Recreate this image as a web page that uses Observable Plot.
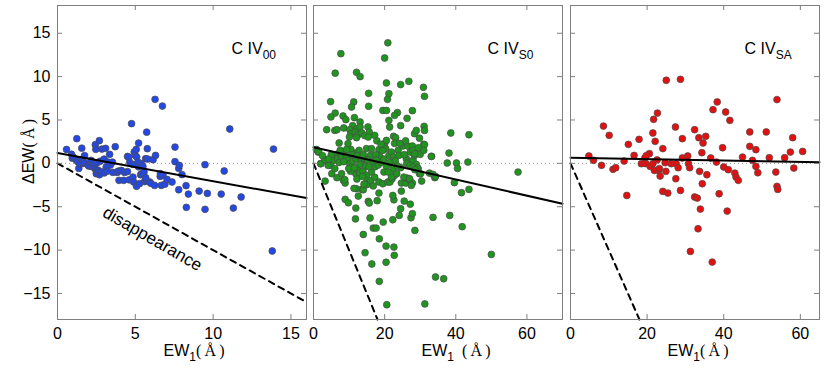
<!DOCTYPE html>
<html><head><meta charset="utf-8">
<script src="https://cdn.jsdelivr.net/npm/d3@7"></script>
<script src="https://cdn.jsdelivr.net/npm/@observablehq/plot@0.6"></script>
<style>
html,body{margin:0;padding:0;background:#fff;}
#wrap{position:relative;width:830px;height:374px;overflow:hidden;background:#fff;}
#wrap svg{position:absolute;top:0;}
</style></head><body><div id="wrap"></div>
<script>
// ---------- data (EW1, ΔEW) ----------
const c00Points = [
[0.58,1.6],[0.9,1.05],[0.95,0.6],[1.0,0.75],[1.2,0.4],[1.24,2.85],[1.3,0.2],[1.37,-0.58],[1.45,-0.1],[1.56,1.75],[1.56,0.42],[1.65,0.0],[1.74,0.9],[1.74,0.08],[1.95,-0.15],[2.0,-0.3],[2.16,-0.35],[2.16,0.35],[2.3,-0.1],[2.38,-0.54],[2.43,2.15],[2.45,-0.7],[2.46,1.62],[2.49,-1.19],[2.55,0.08],[2.6,-0.77],[2.6,-1.0],[2.69,2.62],[2.7,-1.31],[2.75,0.25],[2.81,-0.96],[2.85,1.65],[3.0,0.5],[3.0,-1.1],[3.09,1.73],[3.13,-0.42],[3.2,-0.9],[3.24,0.15],[3.35,1.04],[3.4,-0.2],[3.53,0.15],[3.56,-1.04],[3.71,1.92],[3.84,-1.04],[3.9,-0.9],[3.95,-1.96],[4.1,-0.81],[4.25,-1.96],[4.31,-1.04],[4.5,0.8],[4.5,-0.95],[4.57,0.73],[4.6,-1.9],[4.64,0.15],[4.76,4.58],[4.85,-0.12],[4.85,-1.58],[4.89,-2.15],[4.93,1.31],[5.0,0.9],[5.06,1.61],[5.08,-2.65],[5.09,0.73],[5.17,0.15],[5.2,-0.4],[5.21,2.34],[5.27,-2.34],[5.34,-1.31],[5.38,-0.04],[5.4,-1.2],[5.49,-0.35],[5.56,-1.0],[5.6,-2.1],[5.64,-1.96],[5.66,0.54],[5.67,-1.65],[5.73,3.6],[5.77,1.69],[5.8,0.5],[5.92,-2.15],[6.0,-2.3],[6.14,0.42],[6.24,-2.54],[6.27,7.38],[6.3,0.92],[6.6,-1.5],[6.61,-1.19],[6.67,-2.54],[6.74,6.61],[6.78,-1.38],[6.9,-2.4],[7.04,-1.85],[7.36,-2.15],[7.55,1.88],[7.55,0.2],[7.79,-0.58],[7.83,-0.23],[7.79,-3.04],[8.0,-1.3],[8.26,-2.57],[8.28,-5.07],[8.41,-3.54],[9.1,-3.19],[9.48,-0.15],[9.48,-5.3],[9.63,-3.46],[10.52,-3.54],[10.71,-0.88],[11.07,3.96],[11.3,-5.15],[11.8,-3.88],[13.8,-10.1],[13.88,1.65]
];
const cS0Points = [
[20.9,13.9],[7.7,12.65],[20.0,12.15],[6.1,10.4],[12.1,10.5],[13.1,10.0],[26.8,9.46],[24.5,9.08],[20.5,9.27],[30.9,8.77],[15.5,8.08],[21.2,8.04],[20.8,7.38],[31.2,7.73],[4.8,7.12],[11.3,7.08],[15.5,6.58],[10.7,6.5],[19.5,6.1],[20.5,6.1],[27.8,6.08],[23.6,5.85],[22.8,5.54],[6.1,5.8],[4.9,5.35],[8.3,5.46],[9.1,5.04],[11.5,5.27],[26.3,5.19],[21.2,4.96],[13.1,4.77],[11.0,4.35],[21.4,4.19],[24.5,4.35],[15.3,4.19],[3.7,3.88],[6.0,3.8],[6.6,3.88],[8.5,4.08],[10.2,3.88],[10.5,3.42],[12.2,4.0],[13.1,4.2],[11.7,3.6],[12.5,3.3],[13.6,3.5],[14.4,3.2],[15.7,3.6],[17.2,3.23],[15.4,3.04],[22.5,3.12],[23.1,2.96],[28.4,3.42],[28.9,3.8],[31.1,4.27],[31.2,3.8],[38.6,3.5],[43.7,3.3],[31.0,2.2],[7.2,2.35],[9.7,2.27],[12.1,2.96],[10.1,3.04],
[38.1,1.19],[40.2,0.04],[37.6,0.04],[40.5,-0.58],[43.4,0.15],[33.2,0.81],[57.5,-1.0],[39.6,-2.23],[34.1,-1.65],[41.6,-3.38],[43.7,-3.0],
[33.6,-6.23],[38.3,-6.0],[41.8,-7.3],[50.0,-10.5],[34.3,-13.1],[36.6,-13.3],[31.3,-16.2],[20.6,-16.3],[18.5,-13.6],[16.4,-11.6],[20.4,-11.4],[14.5,-10.3],[20.4,-9.54],[22.6,-9.65],[22.7,-10.6],[14.0,-8.2],[16.8,-7.46],[17.6,-7.46],[18.5,-8.7],[19.6,-6.77],[15.9,-6.3],[11.8,-6.4],[22.3,-6.5],[24.1,-6.0],[24.5,-5.23],[25.5,-4.35],[27.2,-4.7],[27.4,-6.27],[27.8,-5.8],[28.5,-7.73],[8.9,-4.15],[9.8,-4.54],[11.9,-5.15],[15.4,-4.38],[15.7,-4.58],[22.6,-4.2],[22.3,-3.7],[24.7,-3.2],[18.4,-3.42],[13.6,-3.0],[14.0,-3.04],[12.6,-3.77],[17.9,-4.3],[12.0,-2.92],
[0.8,1.6],[1.3,1.3],[2.0,-0.04],[3.2,0.35],[3.27,-2.04],[5.14,-1.19],[4.86,-0.23],[4.1,-0.23],[5.7,0.35],[6.54,1.04],[6.73,0.54],[6.6,-1.65],[7.9,0.92],[8.0,0.73],[8.8,1.1],[9.3,0.8],[8.4,-1.96],[8.9,-2.27],[7.9,-1.19],[8.8,-1.88],[9.7,0.35],[10.2,-0.04],[10.9,-0.35],[11.1,0.27],[11.9,0.54],[11.9,1.19],[11.4,-2.88],[11.9,-1.19],[12.5,-0.81],[13.0,-1.12],[13.9,-0.88],[12.8,1.5],[13.5,0.3],[14.2,0.6],[14.5,-0.3],[14.9,-1.38],[15.1,-1.96],[15.8,-2.27],[16.3,-1.0],[15.0,-2.46],[16.1,-1.96],[14.9,1.7],[16.3,1.7],[16.0,0.92],[16.8,0.15],[17.3,-0.4],[17.2,-1.6],[18.4,1.58],[18.6,0.8],[18.2,-0.2],[19.0,0.1],[18.4,-2.15],[19.5,-2.35],[20.9,-2.15],[20.0,2.27],[20.5,2.65],[20.3,1.7],[21.2,0.92],[21.9,1.3],[22.5,0.73],[20.5,-0.3],[21.5,0.1],[21.5,-2.15],[22.1,-1.77],[22.4,-0.62],[22.8,-1.38],[21.9,-1.58],[23.8,1.5],[24.0,0.92],[23.4,-1.19],[24.7,-2.27],[25.1,2.0],[26.5,2.0],[27.8,2.0],[27.2,1.3],[28.0,1.5],[26.1,0.54],[26.8,0.15],[28.0,0.35],[28.4,0.92],[30.0,1.04],[28.9,-0.12],[28.5,1.12],[26.2,-0.04],[27.1,-0.23],[28.0,-0.42],[26.0,-2.27],[26.4,-1.7],[27.1,-1.96],[27.8,-2.27],[25.4,-1.58],[27.0,-1.77],[27.5,-2.54],[29.4,-0.62],[29.8,-1.19],[30.4,-2.04],[30.1,-1.2],[29.3,-0.54],[28.5,-0.73],[31.2,2.15],[33.1,0.8],[32.6,-1.12],[33.6,-1.27],[34.3,-1.5],[2.06,-0.04],[3.27,0.42],[1.4,1.38],[10.5,1.6],[11.0,1.0],[12.3,0.9],[13.0,-0.1],[14.0,1.0],[15.2,0.4],[17.5,1.0],[19.5,1.5],[23.0,0.3],[24.5,-0.5],[25.5,1.0],[17.8,2.6],[19.0,2.2],[22.8,2.3],[24.3,2.3],[25.9,2.6],[9.3,1.6],[10.4,-0.9],[12.2,-1.8],[14.2,-2.4],[16.8,-2.6],[19.8,-1.0],[21.0,-1.0],[6.0,-0.6],[7.2,0.1],[8.5,0.2],[9.9,-0.6],[11.5,-0.5],[13.8,-1.5],[15.6,-0.4],[17.6,0.4],[19.8,0.5],[23.6,-0.3],[5.0,1.0],[4.2,0.5],[29.5,1.8],[29.8,2.9],[31.0,1.5],[2.5,0.9],[7.5,1.5]
];
const cSAPoints = [
[4.8,0.85],[6.0,0.35],[8.1,-0.23],[8.6,4.3],[10.1,3.23],[11.1,-0.69],[11.8,-0.5],[14.0,0.27],[14.7,-3.7],[15.1,2.19],[16.6,0.92],[17.9,2.77],[18.5,-0.04],[19.4,0.62],[19.7,-0.04],[20.6,1.12],[20.8,-0.35],[21.5,-0.04],[21.5,3.5],[21.7,5.08],[22.1,2.54],[22.7,5.8],[21.9,-0.81],[23.0,-0.81],[23.4,-1.46],[24.1,1.7],[24.7,0.08],[25.0,9.58],[24.1,-3.23],[25.4,-3.42],[24.9,-0.92],[26.3,-0.04],[27.6,-0.04],[27.4,4.19],[27.5,-1.77],[28.1,-0.5],[28.7,9.69],[28.7,-3.12],[29.2,2.85],[29.2,0.62],[30.6,0.85],[30.8,-0.04],[31.1,-0.5],[31.3,-10.15],[32.4,3.88],[32.4,-3.88],[33.1,-4.0],[33.5,2.96],[33.7,-0.92],[33.9,-5.27],[33.3,-7.54],[34.3,1.23],[34.4,-2.35],[34.6,2.35],[35.3,3.12],[35.6,-1.31],[36.6,0.62],[37.0,-11.38],[37.2,6.19],[38.1,0.15],[38.3,7.08],[38.8,-3.5],[39.7,1.8],[40.0,-0.42],[41.2,-0.73],[40.5,5.92],[40.9,-5.5],[41.6,4.96],[42.9,-1.12],[43.2,-1.58],[43.8,-1.96],[44.9,0.73],[46.8,3.62],[46.8,1.96],[47.5,0.35],[48.4,1.58],[48.4,-0.35],[48.9,-1.08],[51.1,3.62],[51.9,0.65],[53.6,-1.0],[53.9,7.35],[53.9,-2.65],[54.1,-3.0],[55.9,0.65],[57.4,1.3],[58.0,2.96],[58.3,-0.54],[60.6,1.38],[19.8,0.9],[22.6,0.4],[23.2,-0.6]
];
// fit lines and disappearance limit (ΔEW = −EW1)
const fit00 = [[0,1.2],[16,-4.0]];
const fitS0 = [[0,1.85],[70,-4.65]];
const fitSA = [[0,0.66],[65,0.12]];
const disappear00 = [[0,0],[16,-16]];
const disappearS0 = [[0,0],[18,-18]];
const disappearSA = [[0,0],[18,-18]];
const disappearLabel = [{x:6.1, y:-8.7, text:"disappearance"}];
// ticks and labels
const yTicks = [-15,-10,-5,0,5,10,15];
const xTicks00 = [0,5,10,15];
const xTicksS0 = [0,20,40,60];
const xTicksSA = [0,20,40,60];
const panelNames = ["C IV_{00}", "C IV_{S0}", "C IV_{SA}"];
const xLabels = ["EW_{1}§{(\u2009Å\u2009)}", "EW_{1}§{\u2002(\u2009Å\u2009)}", "EW_{1}§{(\u2009Å\u2009)}"];
const yLabel = "ΔEW§{(\u2009Å\u2009)}";

// ---------- layout ----------
const H = 374, MT = 5, MB = 55, FW = 249, FH = H - MT - MB;
const SANS = "'Liberation Sans', Arial, Helvetica, sans-serif";
const SERIF = "'Liberation Serif', 'DejaVu Serif', serif";
const GRAY = "#7f7f7f";

function rich(svg) {
  d3.select(svg).selectAll("text").each(function() {
    const t = this.textContent;
    if (!/[_§]\{/.test(t)) return;
    const el = d3.select(this);
    el.text(null);
    const re = /([_§])\{([^}]*)\}|([^_§]+)/g;
    let m, shifted = 0;
    while ((m = re.exec(t))) {
      const ts = el.append("tspan");
      if (m[1] === "_") {
        ts.text(m[2]).attr("font-size", 12).attr("dy", 5);
        shifted = 5;
      } else {
        ts.text(m[3] !== undefined ? m[3] : m[2]);
        if (m[1] === "§") ts.attr("font-family", SERIF).attr("font-size", 16);
        if (shifted) { ts.attr("dy", -shifted); shifted = 0; }
      }
    }
  });
}

function panel({left, width, mL, mR, xDomain, xTicks, points, color, fit, disappear, name, xlabel, xlabelDx, yAxis}) {
  const marks = [
    Plot.ruleY([0], {stroke: "#9a9a9a", strokeDasharray: "1,3"}),
    Plot.dot(points, {x: d => d[0], y: d => d[1], r: 3.4, fill: color, stroke: "#4a4a4a", strokeWidth: 0.7}),
    Plot.line(fit, {x: d => d[0], y: d => d[1], stroke: "black", strokeWidth: 2}),
    Plot.line(disappear, {x: d => d[0], y: d => d[1], stroke: "black", strokeWidth: 2, strokeDasharray: "6,5"}),
    Plot.frame({stroke: GRAY}),
    Plot.ruleX(xTicks, {insetTop: FH - 5, stroke: GRAY}),
    Plot.ruleX(xTicks, {insetBottom: FH - 5, stroke: GRAY}),
    Plot.ruleY(yTicks, {insetRight: FW - 5, stroke: GRAY}),
    Plot.ruleY(yTicks, {insetLeft: FW - 5, stroke: GRAY}),
    Plot.axisX({ticks: xTicks, tickSize: 0, tickPadding: 8, label: null}),
    Plot.text([name], {text: d => d, frameAnchor: "top-left", dx: 174, dy: 48, textAnchor: "start", lineAnchor: "bottom", fontSize: 16}),
    Plot.text([xlabel], {text: d => d, frameAnchor: "bottom-left", dx: xlabelDx, dy: 36, textAnchor: "start", lineAnchor: "bottom", fontSize: 16})
  ];
  if (yAxis) {
    marks.push(Plot.axisY({ticks: yTicks, tickSize: 0, tickPadding: 7, label: null}));
    marks.push(Plot.text([yLabel], {text: d => d, frameAnchor: "left", dx: -29, dy: -11, rotate: -90, textAnchor: "middle", lineAnchor: "middle", fontSize: 16}));
    marks.push(Plot.text(disappearLabel, {x: "x", y: "y", text: "text", rotate: 30, fontSize: 17}));
  }
  const svg = Plot.plot({
    width, height: H,
    marginLeft: mL, marginRight: mR, marginTop: MT, marginBottom: MB,
    x: {domain: xDomain},
    y: {domain: [-18, 18.2], axis: yAxis ? undefined : null},
    style: {fontFamily: SANS, fontSize: "16px", background: "transparent", overflow: "visible", color: "black"},
    marks
  });
  rich(svg);
  svg.style.left = left + "px";
  return svg;
}

const wrap = document.getElementById("wrap");
wrap.appendChild(panel({left: 0, width: 310, mL: 57, mR: 4, xDomain: [0, 16], xTicks: xTicks00, points: c00Points, color: "#2448e6", fit: fit00, disappear: disappear00, name: panelNames[0], xlabel: xLabels[0], xlabelDx: 106, yAxis: true}));
wrap.appendChild(panel({left: 309, width: 257, mL: 4, mR: 4, xDomain: [0, 70], xTicks: xTicksS0, points: cS0Points, color: "#1f951f", fit: fitS0, disappear: disappearS0, name: panelNames[1], xlabel: xLabels[1], xlabelDx: 108, yAxis: false}));
wrap.appendChild(panel({left: 566, width: 257, mL: 4, mR: 4, xDomain: [0, 65], xTicks: xTicksSA, points: cSAPoints, color: "#e41010", fit: fitSA, disappear: disappearSA, name: panelNames[2], xlabel: xLabels[2], xlabelDx: 97, yAxis: false}));
</script></body></html>
